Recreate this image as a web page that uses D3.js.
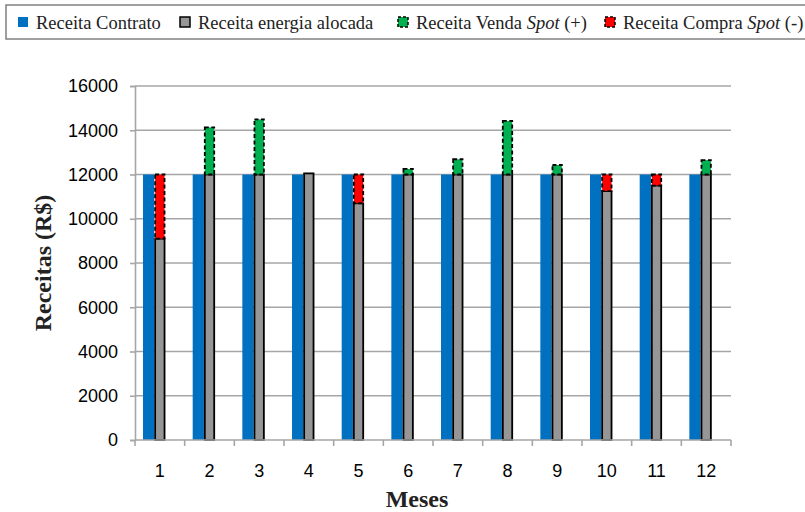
<!DOCTYPE html>
<html>
<head>
<meta charset="utf-8">
<script src="https://cdn.jsdelivr.net/npm/d3@7/dist/d3.min.js"></script>
<style>
  html, body { margin: 0; padding: 0; background: #fff; }
  svg { display: block; }
</style>
</head>
<body>
<svg id="chart" width="805" height="512"></svg>
<script>
// Monthly revenues (R$)
const meses = ["1", "2", "3", "4", "5", "6", "7", "8", "9", "10", "11", "12"];
const receitaContrato = [12000, 12000, 12000, 12000, 12000, 12000, 12000, 12000, 12000, 12000, 12000, 12000];
const receitaAlocada = [9100, 12000, 12000, 12050, 10700, 12000, 12000, 12000, 12000, 11250, 11500, 12000];
const receitaVendaSpot = [0, 2130, 2490, 0, 0, 250, 690, 2420, 430, 0, 0, 650];
const receitaCompraSpot = [2900, 0, 0, 0, 1300, 0, 0, 0, 0, 750, 500, 0];
const yTicks = [0, 2000, 4000, 6000, 8000, 10000, 12000, 14000, 16000];

const cores = { contrato: "#0070C0", alocada: "#969696", venda: "#00B050", compra: "#FF0000" };

const svg = d3.select("#chart");
const plot = { left: 135, right: 731, top: 86, bottom: 440 };

const x = d3.scaleBand().domain(meses).range([plot.left, plot.right]);
// three slots per month (Excel-style cluster); the third one stays empty
const xSub = d3.scaleBand().domain(["contrato", "alocada", "livre"])
  .range([0, x.bandwidth()]).paddingOuter(0.716);
const y = d3.scaleLinear().domain([0, 16000]).range([plot.bottom, plot.top]);

// horizontal gridlines
svg.append("g").selectAll("line").data(yTicks.slice(1)).join("line")
  .attr("x1", plot.left).attr("x2", plot.right)
  .attr("y1", d => y(d)).attr("y2", d => y(d))
  .attr("stroke", "#a6a6a6").attr("stroke-width", 1.6);

const dados = meses.map((m, i) => ({
  mes: m,
  contrato: receitaContrato[i],
  alocada: receitaAlocada[i],
  venda: receitaVendaSpot[i],
  compra: receitaCompraSpot[i]
}));

// contract revenue bars
svg.append("g").selectAll("rect").data(dados).join("rect")
  .attr("x", d => x(d.mes) + xSub("contrato"))
  .attr("width", xSub.bandwidth())
  .attr("y", d => y(d.contrato))
  .attr("height", d => y(0) - y(d.contrato))
  .attr("fill", cores.contrato);

const sw = 1.8;
// allocated energy revenue bars
svg.append("g").selectAll("rect").data(dados).join("rect")
  .attr("x", d => x(d.mes) + xSub("alocada") + sw / 2)
  .attr("width", xSub.bandwidth() - sw)
  .attr("y", d => y(d.alocada))
  .attr("height", d => y(0) - y(d.alocada))
  .attr("fill", cores.alocada)
  .attr("stroke", "#000").attr("stroke-width", sw);

// spot sale (+) and spot purchase (-) stacked on top of the allocated bar
[["venda", cores.venda], ["compra", cores.compra]].forEach(([k, cor]) => {
  svg.append("g").selectAll("rect").data(dados.filter(d => d[k] > 0)).join("rect")
    .attr("x", d => x(d.mes) + xSub("alocada") + sw / 2)
    .attr("width", xSub.bandwidth() - sw)
    .attr("y", d => y(d.alocada + d[k]))
    .attr("height", d => y(d.alocada) - y(d.alocada + d[k]))
    .attr("fill", cor)
    .attr("stroke", "#000").attr("stroke-width", sw)
    .attr("stroke-dasharray", "4,2.5");
});

// y axis
const yAxis = svg.append("g").attr("transform", `translate(${plot.left},0)`)
  .call(d3.axisLeft(y).tickValues(yTicks).tickSize(5).tickPadding(12).tickFormat(d3.format("d")));
yAxis.select(".domain").attr("stroke", "#a6a6a6").attr("stroke-width", 1.6);
yAxis.selectAll(".tick line").attr("stroke", "#a6a6a6").attr("stroke-width", 1.6);
yAxis.selectAll("text").attr("font-family", "Liberation Sans, Arial, sans-serif")
  .attr("font-size", 18).attr("fill", "#000");

// x axis with boundary ticks between months
const xAxis = svg.append("g").attr("transform", `translate(0,${plot.bottom})`);
xAxis.append("line").attr("x1", plot.left).attr("x2", plot.right)
  .attr("stroke", "#a6a6a6").attr("stroke-width", 1.6);
const limites = meses.map(m => x(m)).concat([plot.right]);
xAxis.selectAll("line.lim").data(limites).join("line").attr("class", "lim")
  .attr("x1", d => d).attr("x2", d => d).attr("y1", 0).attr("y2", 6)
  .attr("stroke", "#a6a6a6").attr("stroke-width", 1.6);
xAxis.selectAll("text").data(meses).join("text")
  .attr("x", d => x(d) + x.bandwidth() / 2).attr("y", 37)
  .attr("text-anchor", "middle")
  .attr("font-family", "Liberation Sans, Arial, sans-serif")
  .attr("font-size", 18).attr("fill", "#000")
  .text(d => d);

// axis titles
const serif = "'Liberation Serif', 'Times New Roman', serif";
svg.append("text")
  .attr("transform", `translate(51,${(plot.top + plot.bottom) / 2}) rotate(-90)`)
  .attr("text-anchor", "middle").attr("font-family", serif)
  .attr("font-weight", "bold").attr("font-size", 24).attr("fill", "#222")
  .text("Receitas (R$)");
svg.append("text")
  .attr("x", 417).attr("y", 507)
  .attr("text-anchor", "middle").attr("font-family", serif)
  .attr("font-weight", "bold").attr("font-size", 24).attr("fill", "#222")
  .text("Meses");

// legend
const legenda = svg.append("g");
legenda.append("rect").attr("x", 6).attr("y", 5).attr("width", 820).attr("height", 34)
  .attr("fill", "none").attr("stroke", "#808080").attr("stroke-width", 1.5);
const itens = [
  { x: 18, cor: cores.contrato, borda: null, texto: [["Receita Contrato", false]] },
  { x: 180, cor: cores.alocada, borda: "solid", texto: [["Receita energia alocada", false]] },
  { x: 398, cor: cores.venda, borda: "dash", texto: [["Receita Venda ", false], ["Spot", true], [" (+)", false]] },
  { x: 605, cor: cores.compra, borda: "dash", texto: [["Receita Compra ", false], ["Spot", true], [" (-)", false]] }
];
itens.forEach(it => {
  const r = legenda.append("rect").attr("x", it.x).attr("y", 17).attr("width", 10).attr("height", 10)
    .attr("fill", it.cor);
  if (it.borda) {
    r.attr("stroke", "#000").attr("stroke-width", 1.5);
    if (it.borda === "dash") r.attr("stroke-dasharray", "3,2");
  }
  const t = legenda.append("text").attr("x", it.x + 18).attr("y", 29)
    .attr("font-family", serif).attr("font-size", 18.5).attr("fill", "#222");
  it.texto.forEach(([s, ital]) => {
    t.append("tspan").attr("font-style", ital ? "italic" : "normal").text(s);
  });
});
</script>
</body>
</html>
